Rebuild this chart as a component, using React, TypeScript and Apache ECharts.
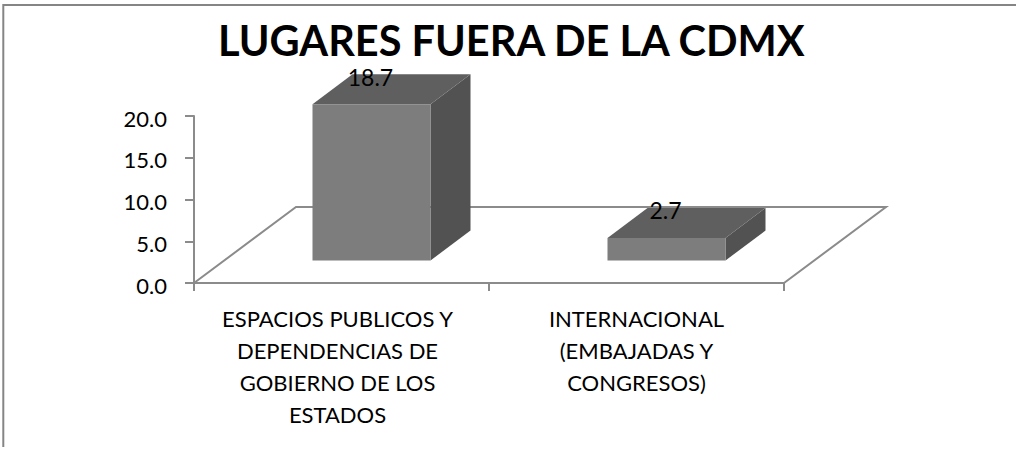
import React, { useEffect, useRef } from "react";
import * as echarts from "echarts";

const titleText = "LUGARES FUERA DE LA CDMX";
const categories = [
  "ESPACIOS PUBLICOS Y\nDEPENDENCIAS DE\nGOBIERNO DE LOS\nESTADOS",
  "INTERNACIONAL\n(EMBAJADAS Y\nCONGRESOS)",
];
const values = [18.7, 2.7];
const yMin = 0;
const yMax = 20;
const yInterval = 5;

const FONT = "Lato";
const AXIS = "#8b8b8b";
const FRONT = "#7d7d7d";
const TOP = "#5f5f5f";
const SIDE = "#525252";
const BAR_W = 118;
const DX = 40;
const DY = -30;
const OFF_X = 30;
const OFF_Y = -22.5;
const FLOOR_DX = 102;
const FLOOR_DY = -76;

function renderFloor(params: any) {
  const c = params.coordSys;
  const bottom = c.y + c.height;
  return {
    type: "polyline",
    shape: {
      points: [
        [c.x, bottom],
        [c.x + FLOOR_DX, bottom + FLOOR_DY],
        [c.x + c.width + FLOOR_DX, bottom + FLOOR_DY],
        [c.x + c.width, bottom],
      ],
    },
    style: { fill: "none", stroke: AXIS, lineWidth: 2 },
    silent: true,
  };
}

function renderBar(_params: any, api: any) {
  const idx = api.value(0);
  const value = api.value(1);
  const topPt = api.coord([idx, value]);
  const basePt = api.coord([idx, 0]);
  const x0 = topPt[0] + OFF_X - BAR_W / 2;
  const x1 = x0 + BAR_W;
  const yTop = topPt[1] + OFF_Y;
  const yBase = basePt[1] + OFF_Y;
  return {
    type: "group",
    children: [
      {
        type: "polygon",
        shape: { points: [[x1, yTop], [x1 + DX, yTop + DY], [x1 + DX, yBase + DY], [x1, yBase]] },
        style: { fill: SIDE },
      },
      {
        type: "polygon",
        shape: { points: [[x0, yTop], [x0 + DX, yTop + DY], [x1 + DX, yTop + DY], [x1, yTop]] },
        style: { fill: TOP },
      },
      {
        type: "rect",
        shape: { x: x0, y: yTop, width: BAR_W, height: yBase - yTop },
        style: { fill: FRONT },
      },
      {
        type: "text",
        style: {
          x: (x0 + x1) / 2 - 1,
          y: yTop - 27.5,
          text: value.toFixed(1),
          font: `23px ${FONT}`,
          fill: "#000000",
          align: "center",
          verticalAlign: "middle",
        },
      },
    ],
  };
}

export default function App() {
  const ref = useRef<HTMLDivElement>(null);
  useEffect(() => {
    const chart = echarts.init(ref.current!, undefined, { renderer: "svg" });
    chart.setOption({
      animation: false,
      backgroundColor: "#ffffff",
      title: {
        text: titleText,
        left: 218,
        top: 19,
        padding: 0,
        textStyle: { fontFamily: FONT, fontSize: 41.5, fontWeight: "bold", color: "#000000" },
      },
      grid: { left: 194, right: 232, top: 116, bottom: 166 },
      xAxis: {
        type: "category",
        data: categories,
        boundaryGap: true,
        axisLine: { lineStyle: { color: AXIS, width: 2 } },
        axisTick: { show: true, length: 8, alignWithLabel: false, lineStyle: { color: AXIS, width: 2 } },
        axisLabel: {
          interval: 0,
          margin: 19,
          fontFamily: FONT,
          fontSize: 22,
          lineHeight: 32,
          color: "#000000",
          align: "center",
          formatter: (v: string, i: number) =>
            i === 0 ? v.split("\n").map((l) => `{a|${l}}`).join("\n") : v,
          rich: {
            a: { fontFamily: FONT, fontSize: 22, lineHeight: 32, color: "#000000", padding: [0, 8, 0, 0] },
          },
        },
      },
      yAxis: {
        type: "value",
        min: yMin,
        max: yMax,
        interval: yInterval,
        splitLine: { show: false },
        axisLine: { show: true, lineStyle: { color: AXIS, width: 2 } },
        axisTick: { show: true, length: 9, lineStyle: { color: AXIS, width: 2 } },
        axisLabel: {
          margin: 27,
          fontFamily: FONT,
          fontSize: 22,
          color: "#000000",
          formatter: (v: number) => `{a|${v.toFixed(1)}}`,
          rich: {
            a: { fontFamily: FONT, fontSize: 22, color: "#000000", padding: [4, 0, 0, 0] },
          },
        },
      },
      graphic: [
        {
          type: "polyline",
          shape: { points: [[3.3, 447], [3.3, 5], [1016, 5]] },
          style: { fill: "none", stroke: "#858585", lineWidth: 2 },
          silent: true,
        },
      ],
      series: [
        { type: "custom", renderItem: renderFloor, data: [0], silent: true, z: 1 },
        {
          type: "custom",
          renderItem: renderBar,
          encode: { x: 0, y: 1 },
          data: values.map((v, i) => [i, v]),
          silent: true,
          z: 2,
        },
      ],
    });
    return () => chart.dispose();
  }, []);
  return <div ref={ref} style={{ position: "absolute", left: 0, top: 0, width: 1016, height: 449 }} />;
}
